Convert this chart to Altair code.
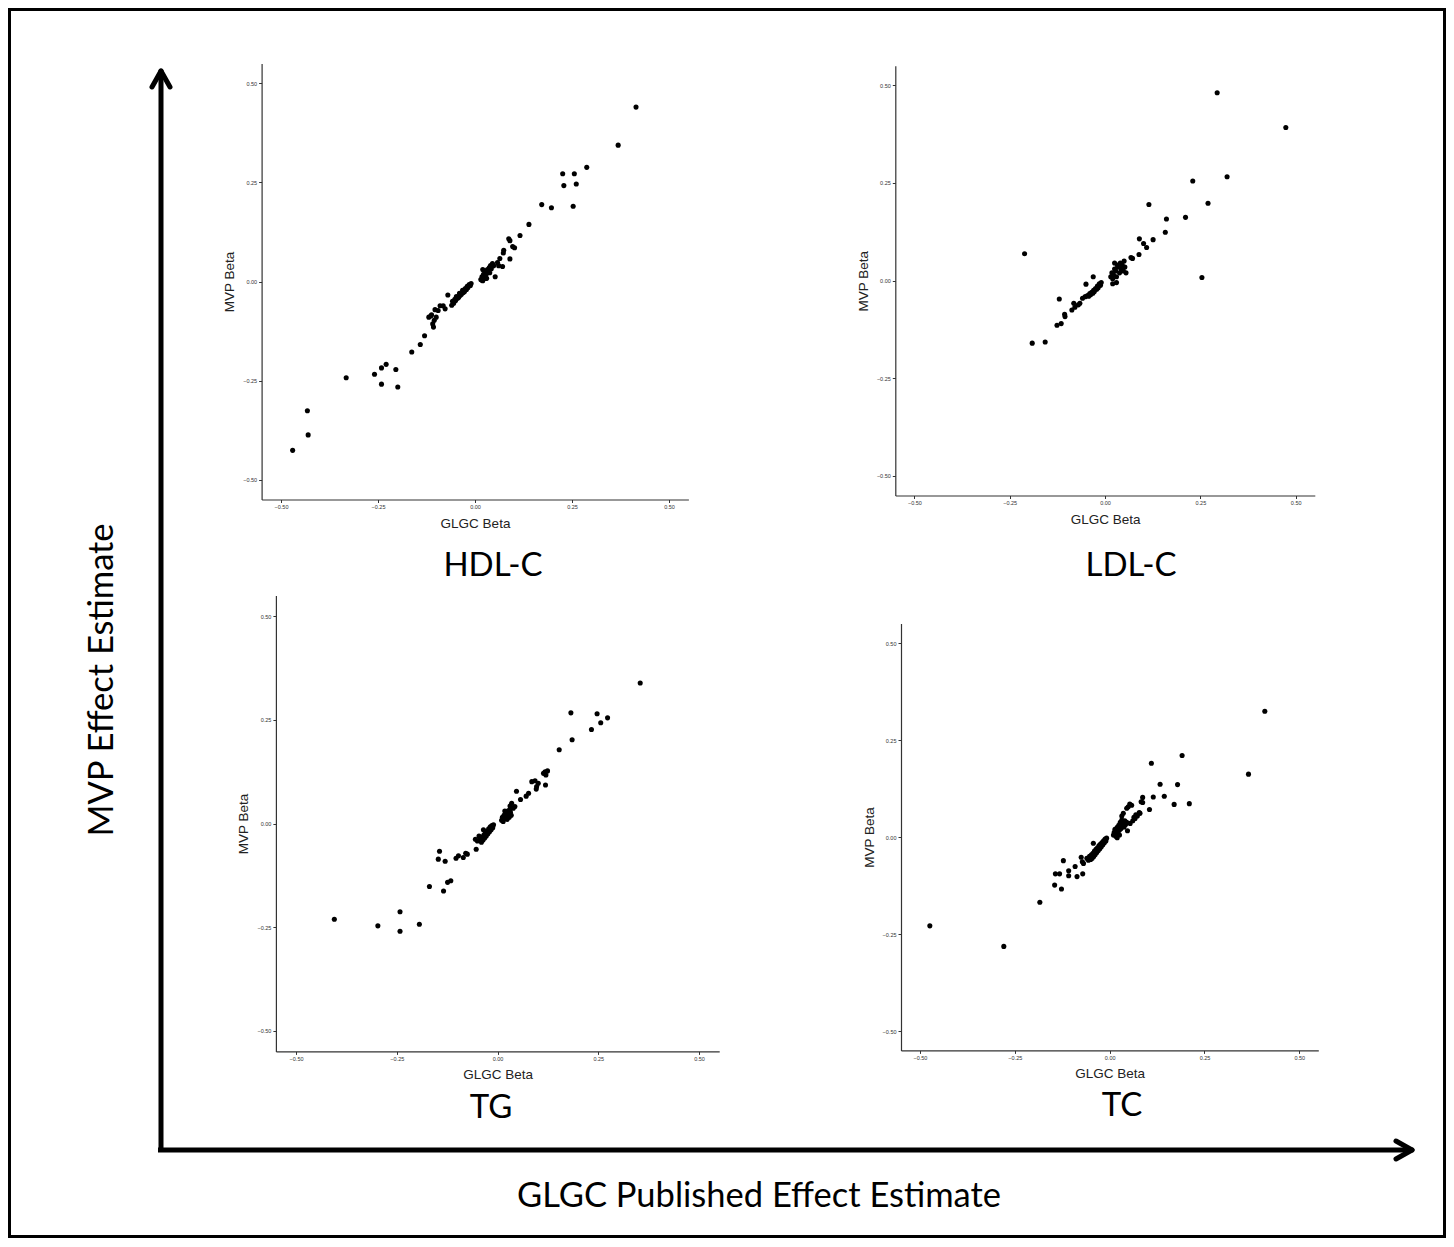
import altair as alt
import pandas as pd

# ---------------- data ----------------
hdl_glgc = [0.415, 0.369, 0.288, 0.226, 0.256, 0.229, 0.261, 0.172, 0.197, 0.253,
            0.139, 0.116, 0.087, 0.090, 0.097, 0.102, 0.074, 0.073, 0.064, 0.090,
            0.058, 0.061, 0.071, 0.052, 0.018, 0.030,
            0.015, 0.018, 0.020, 0.022, 0.025, 0.027, 0.030, 0.032, 0.035, 0.037,
            0.040, 0.042, 0.045, 0.028, 0.020, 0.038, 0.048,
            -0.010, -0.012, -0.015, -0.018, -0.020, -0.022, -0.025, -0.027, -0.030, -0.032,
            -0.035, -0.038, -0.040, -0.042, -0.045, -0.048, -0.050, -0.052, -0.055, -0.058, -0.060,
            -0.070, -0.082, -0.077, -0.095, -0.114, -0.119, -0.100, -0.105, -0.109, -0.107,
            -0.130, -0.141, -0.163, -0.332, -0.259, -0.241, -0.229, -0.204, -0.241, -0.199,
            -0.432, -0.430, -0.470, -0.090, -0.103, -0.112]
hdl_mvp = [0.440, 0.344, 0.288, 0.272, 0.272, 0.242, 0.246, 0.194, 0.186, 0.190,
           0.144, 0.116, 0.108, 0.103, 0.088, 0.085, 0.079, 0.072, 0.058, 0.057,
           0.048, 0.040, 0.038, 0.012, 0.003, 0.008,
           0.005, 0.012, 0.002, 0.018, 0.010, 0.025, 0.020, 0.030, 0.028, 0.035,
           0.040, 0.032, 0.045, 0.008, 0.030, 0.022, 0.040,
           -0.005, -0.010, -0.008, -0.015, -0.012, -0.020, -0.018, -0.025, -0.028, -0.022,
           -0.032, -0.035, -0.030, -0.040, -0.042, -0.038, -0.048, -0.045, -0.055, -0.050, -0.060,
           -0.034, -0.061, -0.069, -0.073, -0.087, -0.090, -0.090, -0.098, -0.107, -0.115,
           -0.137, -0.159, -0.178, -0.243, -0.234, -0.218, -0.209, -0.222, -0.259, -0.266,
           -0.326, -0.387, -0.426, -0.061, -0.071, -0.084]

ldl_glgc = [0.294, 0.474, 0.230, 0.320, 0.270, 0.115, 0.161, 0.211, 0.158, 0.090,
            0.126, 0.101, 0.109, 0.089, 0.068, 0.072, -0.211, 0.254, -0.120, -0.082,
            -0.106, -0.105, -0.126, -0.115, -0.191, -0.157,
            -0.087, -0.079, -0.070, -0.066, -0.059, -0.052, -0.050, -0.031,
            0.015, 0.018, 0.020, 0.022, 0.025, 0.028, 0.030, 0.032, 0.035, 0.038,
            0.040, 0.042, 0.045, 0.050, 0.048, 0.052, 0.055, 0.020, 0.030, 0.025,
            -0.010, -0.012, -0.015, -0.018, -0.020, -0.022, -0.025, -0.028, -0.030, -0.032,
            -0.035, -0.038, -0.040, -0.043, -0.046]
ldl_mvp = [0.481, 0.392, 0.255, 0.266, 0.198, 0.195, 0.158, 0.162, 0.124, 0.107,
           0.105, 0.095, 0.085, 0.067, 0.059, 0.057, 0.069, 0.008, -0.047, -0.058,
           -0.086, -0.092, -0.114, -0.110, -0.160, -0.157,
           -0.075, -0.068, -0.062, -0.058, -0.045, -0.041, -0.009, 0.010,
           0.010, 0.020, 0.005, 0.015, 0.030, 0.025, 0.010, 0.040, 0.035, 0.020,
           0.045, 0.030, 0.040, 0.050, 0.025, 0.035, 0.020, -0.008, -0.005, 0.045,
           -0.005, -0.012, -0.008, -0.018, -0.014, -0.022, -0.020, -0.028, -0.025, -0.032,
           -0.030, -0.036, -0.033, -0.040, -0.038]

tg_glgc = [0.354, 0.182, 0.247, 0.273, 0.256, 0.233, 0.185, 0.153,
           0.118, 0.124, 0.114, 0.120, 0.119,
           0.085, 0.093, 0.101, 0.097, 0.096,
           0.047, 0.057, 0.071, 0.077, 0.039, 0.043, 0.035, 0.031,
           0.010, 0.012, 0.014, 0.016, 0.018, 0.020, 0.022, 0.024, 0.025, 0.027,
           0.029, 0.030, 0.032, 0.034, 0.018, 0.036,
           -0.010, -0.012, -0.014, -0.016, -0.018, -0.020, -0.022, -0.024, -0.026, -0.028,
           -0.030, -0.032, -0.034, -0.036, -0.038, -0.040, -0.043, -0.046, -0.050, -0.055, -0.035,
           -0.053, -0.075, -0.079, -0.097, -0.103, -0.085, -0.144, -0.147, -0.130, -0.116,
           -0.124, -0.169, -0.134, -0.405, -0.297, -0.242, -0.242, -0.194]
tg_mvp = [0.339, 0.267, 0.265, 0.255, 0.243, 0.227, 0.202, 0.178,
          0.125, 0.127, 0.121, 0.117, 0.093,
          0.101, 0.103, 0.097, 0.089, 0.083,
          0.078, 0.058, 0.066, 0.073, 0.037, 0.041, 0.049, 0.042,
          0.008, 0.015, 0.005, 0.020, 0.012, 0.025, 0.018, 0.010, 0.030, 0.022,
          0.015, 0.033, 0.027, 0.020, 0.030, 0.038,
          -0.003, -0.010, -0.005, -0.015, -0.008, -0.020, -0.013, -0.025, -0.018, -0.030,
          -0.022, -0.035, -0.028, -0.040, -0.033, -0.045, -0.038, -0.030, -0.042, -0.038, -0.015,
          -0.062, -0.074, -0.072, -0.078, -0.084, -0.082, -0.067, -0.086, -0.091, -0.138,
          -0.142, -0.152, -0.163, -0.231, -0.247, -0.213, -0.260, -0.243]

tc_glgc = [0.409, 0.366, 0.191, 0.110, 0.133, 0.179, 0.144, 0.115, 0.210, 0.170, 0.105,
           0.087, 0.083, 0.087, 0.078, 0.069, 0.064, 0.047,
           0.058, 0.049, 0.053, 0.045, 0.036, 0.032, 0.080, 0.073, 0.067, 0.061, 0.054,
           0.010, 0.012, 0.014, 0.016, 0.018, 0.020, 0.022, 0.024, 0.026, 0.028,
           0.030, 0.032, 0.034, 0.036, 0.038, 0.040, 0.042, 0.020, 0.026, 0.045,
           -0.008, -0.010, -0.012, -0.014, -0.016, -0.018, -0.020, -0.022, -0.024, -0.026,
           -0.028, -0.030, -0.032, -0.034, -0.036, -0.038, -0.040, -0.042, -0.044, -0.046,
           -0.048, -0.050, -0.053, -0.056, -0.043, -0.060,
           -0.474, -0.279, -0.184, -0.145, -0.127, -0.122, -0.143, -0.132, -0.108, -0.108,
           -0.091, -0.086, -0.071, -0.075, -0.072, -0.069]
tc_mvp = [0.324, 0.162, 0.210, 0.190, 0.136, 0.135, 0.105, 0.103, 0.086, 0.084, 0.071,
          0.102, 0.091, 0.089, 0.063, 0.057, 0.051, 0.016,
          0.082, 0.078, 0.085, 0.074, 0.061, 0.054, 0.061, 0.054, 0.048, 0.042, 0.035,
          0.005, 0.012, 0.020, 0.002, 0.015, 0.025, 0.010, 0.030, 0.018, 0.038,
          0.022, 0.044, 0.030, 0.036, 0.026, 0.042, 0.032, -0.002, 0.005, 0.038,
          -0.003, -0.010, -0.005, -0.015, -0.010, -0.020, -0.014, -0.025, -0.018, -0.030,
          -0.022, -0.035, -0.028, -0.040, -0.032, -0.045, -0.036, -0.050, -0.042, -0.055,
          -0.046, -0.058, -0.050, -0.060, -0.016, -0.055,
          -0.229, -0.282, -0.168, -0.124, -0.134, -0.061, -0.095, -0.095, -0.087, -0.100,
          -0.076, -0.102, -0.095, -0.052, -0.064, -0.068]

panel_names = ["HDL-C", "LDL-C", "TG", "TC"]
panel_data = {
    "HDL-C": (hdl_glgc, hdl_mvp),
    "LDL-C": (ldl_glgc, ldl_mvp),
    "TG": (tg_glgc, tg_mvp),
    "TC": (tc_glgc, tc_mvp),
}
tick_values = [-0.5, -0.25, 0.0, 0.25, 0.5]
x_title = "GLGC Beta"
y_title = "MVP Beta"
big_x_title = "GLGC Published Effect Estimate"
big_y_title = "MVP Effect Estimate"

# ---------------- layout ----------------
W, H = 1438, 1230
DOMAIN = [-0.55, 0.55]
# pixel ranges of each panel's scales (chart coordinates)
panel_box = {
    "HDL-C": {"x": [253.6, 680.4], "y": [491.5, 55.5], "label": (485, 568)},
    "LDL-C": {"x": [887.3, 1306.8], "y": [487.5, 57.8], "label": (1123, 568)},
    "TG": {"x": [267.9, 711.2], "y": [1043.4, 587.6], "label": (483, 1110)},
    "TC": {"x": [893.0, 1310.3], "y": [1042.4, 615.6], "label": (1114, 1108)},
}

BIG_FONT = "Lato"
TITLE_SIZE = 34.5
LABEL_SIZE = 33

layers = []

# outer frame
layers.append(alt.Chart().mark_rect(fill=None, stroke="black", strokeWidth=3).encode(
    x=alt.value(1.5), x2=alt.value(W - 1.5), y=alt.value(1.5), y2=alt.value(H - 1.5)))

# big arrows
arrow_w = 5
layers.append(alt.Chart().mark_rule(color="black", strokeWidth=arrow_w).encode(
    x=alt.value(153), y=alt.value(64), y2=alt.value(1144)))
layers.append(alt.Chart().mark_rule(color="black", strokeWidth=arrow_w, strokeCap="round").encode(
    x=alt.value(153), x2=alt.value(144), y=alt.value(63), y2=alt.value(79)))
layers.append(alt.Chart().mark_rule(color="black", strokeWidth=arrow_w, strokeCap="round").encode(
    x=alt.value(153), x2=alt.value(162), y=alt.value(63), y2=alt.value(79)))
layers.append(alt.Chart().mark_rule(color="black", strokeWidth=arrow_w).encode(
    x=alt.value(150), x2=alt.value(1403), y=alt.value(1142)))
layers.append(alt.Chart().mark_rule(color="black", strokeWidth=arrow_w, strokeCap="round").encode(
    x=alt.value(1404), x2=alt.value(1388), y=alt.value(1142), y2=alt.value(1133)))
layers.append(alt.Chart().mark_rule(color="black", strokeWidth=arrow_w, strokeCap="round").encode(
    x=alt.value(1404), x2=alt.value(1388), y=alt.value(1142), y2=alt.value(1151)))

# big texts
layers.append(alt.Chart().mark_text(
    text=big_x_title, font=BIG_FONT, fontSize=TITLE_SIZE, color="black",
    align="center", baseline="alphabetic").encode(x=alt.value(751), y=alt.value(1199)))
layers.append(alt.Chart().mark_text(
    text=big_y_title, font=BIG_FONT, fontSize=TITLE_SIZE, color="black", angle=270,
    align="center", baseline="alphabetic").encode(x=alt.value(105), y=alt.value(672)))

for name in panel_names:
    lx, ly = panel_box[name]["label"]
    layers.append(alt.Chart().mark_text(
        text=name, font=BIG_FONT, fontSize=LABEL_SIZE, color="black",
        align="center", baseline="alphabetic").encode(x=alt.value(lx), y=alt.value(ly)))

# scatter panels
for name in panel_names:
    gx, my = panel_data[name]
    df = pd.DataFrame({"glgc": gx, "mvp": my})
    box = panel_box[name]
    layers.append(
        alt.Chart(df).mark_circle(size=26, color="black", opacity=1).encode(
            x=alt.X("glgc:Q",
                    scale=alt.Scale(domain=DOMAIN, range=box["x"], nice=False, zero=False),
                    axis=alt.Axis(orient="bottom", offset=box["y"][0] - H, values=tick_values,
                                  format=".2f", title=x_title, labelFlush=False,
                                  labelOverlap=False)),
            y=alt.Y("mvp:Q",
                    scale=alt.Scale(domain=DOMAIN, range=box["y"], nice=False, zero=False),
                    axis=alt.Axis(orient="left", offset=-box["x"][0], values=tick_values,
                                  format=".2f", title=y_title, labelFlush=False,
                                  labelOverlap=False)),
        )
    )

chart = alt.layer(*layers).resolve_scale(
    x="independent", y="independent"
).properties(
    width=W, height=H, padding=0,
    autosize=alt.AutoSizeParams(type="none"),
    background="white",
).configure_view(
    stroke=None
).configure_axis(
    grid=False,
    domainColor="#333333", domainWidth=1.2,
    tickColor="#333333", tickSize=3, tickWidth=1,
    labelFont="Liberation Sans", labelFontSize=5.5, labelColor="#333333", labelPadding=2,
    titleFont="Liberation Sans", titleFontSize=13.5, titleFontWeight="normal",
    titleColor="#222222", titlePadding=6,
)

chart.save("out.html", embed_options={"renderer": "svg", "actions": False})
